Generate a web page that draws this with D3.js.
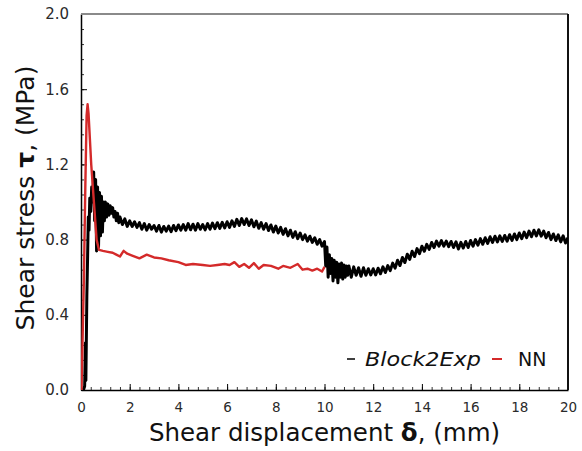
<!DOCTYPE html>
<html lang="en">
	<head>
		<meta charset="utf-8">
		<title></title>
		<script src="https://cdn.jsdelivr.net/npm/d3@7"></script>
		<style type="text/css">
body { margin: 0; background: #fff; }
text { font-family: "DejaVu Sans", sans-serif; }
.tick text { fill: #2a2a2a; }
.line { fill: none; stroke-linejoin: round; }
		</style>
	</head>
	<body>
<svg width="582" height="451"></svg>

<script>

// tick values
var xTicks = [0, 2, 4, 6, 8, 10, 12, 14, 16, 18, 20];
var yTicks = [0.0, 0.4, 0.8, 1.2, 1.6, 2.0];

// NN prediction  [displacement mm, stress MPa]
var nnData = [
[0.02,0.0],[0.12,0.6],[0.18,1.1],[0.23,1.46],[0.27,1.52],[0.31,1.47],[0.42,1.2],[0.53,1.0],
[0.64,0.8],[0.74,0.745],[0.9,0.74],[1.1,0.735],[1.3,0.73],[1.45,0.72],[1.6,0.71],[1.75,0.74],
[1.9,0.725],[2.1,0.715],[2.4,0.70],[2.7,0.72],[3.0,0.705],[3.3,0.70],[3.6,0.69],[4.0,0.68],
[4.3,0.665],[4.6,0.67],[5.0,0.665],[5.3,0.66],[5.6,0.665],[5.9,0.67],[6.1,0.665],[6.3,0.68],
[6.5,0.655],[6.7,0.67],[6.9,0.65],[7.1,0.675],[7.3,0.645],[7.5,0.665],[7.8,0.66],[8.1,0.645],
[8.3,0.66],[8.6,0.65],[8.9,0.67],[9.1,0.64],[9.3,0.645],[9.5,0.635],[9.7,0.645],[9.9,0.63],[10.0,0.655]
];

// Block2Exp measurement  [displacement mm, stress MPa]
var expData = [
[0.10,0.0],[0.15,0.02],[0.18,0.25],[0.2,0.05],[0.24,0.5],[0.27,0.7],[0.3,0.92],[0.33,0.85],
[0.36,1.02],[0.4,0.95],[0.44,1.08],[0.48,1.0],[0.52,1.16],[0.56,0.9],[0.6,1.12],[0.64,0.74],
[0.68,1.08],[0.72,0.76],[0.76,1.05],[0.8,0.82],[0.84,1.03],[0.88,0.84],[0.92,1.0],[0.96,0.9],
[1.0,1.0],[1.05,0.92],[1.1,0.99],[1.15,0.93],[1.2,0.98],[1.25,0.94],[1.3,0.97],[1.35,0.92],
[1.4,0.95],[1.45,0.9],[1.5,0.94],[1.55,0.89],[1.6,0.92],[1.7,0.88],[1.8,0.91],[1.9,0.87],
[2.0,0.90],[2.1,0.87],[2.2,0.895],[2.3,0.865],[2.4,0.89],[2.5,0.855],[2.6,0.885],[2.7,0.85],
[2.8,0.88],[2.9,0.855],[3.0,0.875],[3.1,0.845],[3.2,0.875],[3.3,0.84],[3.4,0.87],[3.5,0.845],
[3.6,0.872],[3.7,0.842],[3.8,0.875],[3.9,0.848],[4.0,0.878],[4.1,0.85],[4.2,0.88],[4.3,0.85],
[4.4,0.885],[4.5,0.852],[4.6,0.882],[4.7,0.85],[4.8,0.885],[4.9,0.855],[5.0,0.88],[5.1,0.852],
[5.2,0.885],[5.3,0.855],[5.4,0.888],[5.5,0.858],[5.6,0.89],[5.7,0.86],[5.8,0.892],[5.9,0.862],
[6.0,0.895],[6.1,0.865],[6.2,0.9],[6.3,0.87],[6.4,0.908],[6.5,0.875],[6.6,0.912],[6.7,0.88],
[6.8,0.91],[6.9,0.875],[7.0,0.905],[7.1,0.868],[7.2,0.898],[7.3,0.86],[7.4,0.89],[7.5,0.855],
[7.6,0.885],[7.7,0.848],[7.8,0.878],[7.9,0.84],[8.0,0.872],[8.1,0.835],[8.2,0.865],[8.3,0.828],
[8.4,0.858],[8.5,0.82],[8.6,0.85],[8.7,0.812],[8.8,0.842],[8.9,0.805],[9.0,0.835],[9.1,0.8],
[9.2,0.825],[9.3,0.792],[9.4,0.818],[9.5,0.785],[9.6,0.81],[9.7,0.775],[9.8,0.8],[9.9,0.765],
[10.0,0.79],[10.05,0.66],[10.1,0.76],[10.15,0.6],[10.2,0.72],[10.25,0.62],[10.3,0.7],[10.35,0.58],
[10.4,0.69],[10.45,0.6],[10.5,0.68],[10.55,0.57],[10.6,0.67],[10.65,0.6],[10.7,0.675],[10.75,0.59],
[10.8,0.665],[10.85,0.6],[10.9,0.66],[10.95,0.61],[11.0,0.66],[11.1,0.6],[11.2,0.655],[11.3,0.61],
[11.4,0.65],[11.5,0.605],[11.6,0.65],[11.7,0.61],[11.8,0.645],[11.9,0.612],[12.0,0.645],[12.1,0.612],
[12.2,0.648],[12.3,0.618],[12.4,0.655],[12.5,0.625],[12.6,0.662],[12.7,0.635],[12.8,0.675],[12.9,0.648],
[13.0,0.69],[13.1,0.662],[13.2,0.705],[13.3,0.678],[13.4,0.722],[13.5,0.695],[13.6,0.738],[13.7,0.71],
[13.8,0.752],[13.9,0.725],[14.0,0.765],[14.1,0.738],[14.2,0.775],[14.3,0.748],[14.4,0.785],[14.5,0.758],
[14.6,0.792],[14.7,0.765],[14.8,0.795],[14.9,0.765],[15.0,0.792],[15.1,0.762],[15.2,0.79],[15.3,0.758],
[15.4,0.788],[15.5,0.75],[15.6,0.785],[15.7,0.755],[15.8,0.79],[15.9,0.758],[16.0,0.795],[16.1,0.765],
[16.2,0.8],[16.3,0.77],[16.4,0.805],[16.5,0.775],[16.6,0.81],[16.7,0.78],[16.8,0.815],[16.9,0.785],
[17.0,0.818],[17.1,0.788],[17.2,0.82],[17.3,0.79],[17.4,0.822],[17.5,0.792],[17.6,0.826],[17.7,0.796],
[17.8,0.83],[17.9,0.8],[18.0,0.835],[18.1,0.805],[18.2,0.84],[18.3,0.81],[18.4,0.845],[18.5,0.815],
[18.6,0.85],[18.7,0.82],[18.8,0.852],[18.9,0.818],[19.0,0.845],[19.1,0.81],[19.2,0.838],[19.3,0.8],
[19.4,0.83],[19.5,0.795],[19.6,0.825],[19.7,0.788],[19.8,0.82],[19.9,0.782],[20.0,0.81]
];

var svg = d3.select("svg")

var margin = {top: 14, right: 14, bottom: 61, left: 81}

var width = +svg.attr("width") - margin.left - margin.right

var height = +svg.attr("height") - margin.top - margin.bottom

var g = svg.append("g").attr("transform", `translate(${margin.left}, ${margin.top})`);

var xScale = d3.scaleLinear().domain([0, 20]).range([0, width]);

var yScale = d3.scaleLinear().domain([0, 2]).range([height, 0]);

g.append("clipPath").attr("id", "clip")
  .append("rect").attr("width", width).attr("height", height);

var line = d3.line()
    .x(d => xScale(d[0]))
    .y(d => yScale(d[1]));

// minor ticks
g.append("g")
    .attr("transform", `translate(0, ${height})`)
    .call(d3.axisBottom(xScale).tickValues(d3.range(0, 20.01, 0.4)).tickSize(-3).tickFormat(""))
    .call(a => a.select(".domain").remove())
    .selectAll("line").attr("stroke", "#333");

g.append("g")
    .call(d3.axisLeft(yScale).tickValues(d3.range(0, 2.01, 0.08)).tickSize(-3).tickFormat(""))
    .call(a => a.select(".domain").remove())
    .selectAll("line").attr("stroke", "#333");

// major axes
g.append("g")
    .attr("transform", `translate(0, ${height})`)
    .call(d3.axisBottom(xScale).tickValues(xTicks).tickSizeInner(-6).tickSizeOuter(0).tickPadding(12))
    .call(a => a.select(".domain").attr("stroke-width", 1.5))
    .selectAll("text").attr("font-size", 13.5);

g.append("g")
    .call(d3.axisLeft(yScale).tickValues(yTicks).tickSizeInner(-6).tickSizeOuter(0).tickPadding(12)
      .tickFormat(d3.format(".1f")))
    .call(a => a.select(".domain").attr("stroke-width", 1.5))
    .selectAll("text").attr("font-size", 15);

// top and right frame
g.append("line").attr("x1", 0).attr("x2", width).attr("y1", 0).attr("y2", 0)
    .attr("stroke", "#8a8a8a").attr("stroke-width", 2);
g.append("line").attr("x1", width).attr("x2", width).attr("y1", 0).attr("y2", height)
    .attr("stroke", "#111").attr("stroke-width", 2);

var plot = g.append("g").attr("clip-path", "url(#clip)");

plot.append("path")
    .datum(expData)
    .attr("class", "line")
    .attr("stroke", "#000")
    .attr("stroke-width", 3)
    .attr("d", line);

plot.append("path")
    .datum(nnData)
    .attr("class", "line")
    .attr("stroke", "#d42a2a")
    .attr("stroke-width", 2.4)
    .attr("d", line);

// axis titles
svg.append("text")
    .attr("x", margin.left + width / 2).attr("y", 441)
    .attr("text-anchor", "middle").attr("font-size", 24.5).attr("fill", "#111")
    .html("Shear displacement <tspan font-weight='bold'>δ</tspan>, (mm)");

svg.append("text")
    .attr("transform", "translate(34, 198) rotate(-90)")
    .attr("text-anchor", "middle").attr("font-size", 25).attr("fill", "#111")
    .html("Shear stress <tspan font-weight='bold'>τ</tspan>, (MPa)");

// legend
var lg = svg.append("g").attr("transform", "translate(346, 366)");
lg.append("line").attr("x1", 1).attr("x2", 9).attr("y1", -7).attr("y2", -7).attr("stroke", "#000").attr("stroke-width", 1.5);
lg.append("text").attr("x", 19).attr("font-size", 19).attr("font-style", "italic").attr("fill", "#111")
    .attr("textLength", 116).attr("lengthAdjust", "spacingAndGlyphs").text("Block2Exp");
lg.append("line").attr("x1", 146).attr("x2", 156).attr("y1", -7).attr("y2", -7).attr("stroke", "#d42a2a").attr("stroke-width", 2);
lg.append("text").attr("x", 172).attr("font-size", 19).attr("fill", "#111").text("NN");

</script>

	</body>
</html>
